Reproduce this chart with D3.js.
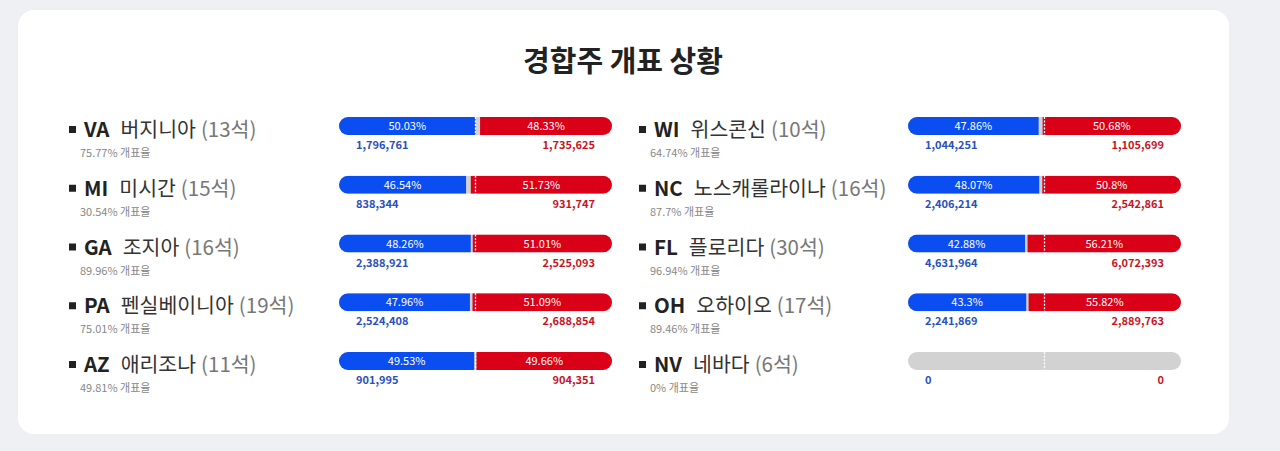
<!DOCTYPE html>
<html><head><meta charset="utf-8">
<script src="https://cdn.jsdelivr.net/npm/d3@7"></script>
<style>
html,body{margin:0;padding:0;background:#eef0f4;}
svg{display:block;font-family:"Noto Sans CJK KR","Noto Sans",sans-serif;}
</style></head>
<body>
<svg id="chart" width="1280" height="451"></svg>
<script>
const states = ["VA","MI","GA","PA","AZ","WI","NC","FL","OH","NV"];
const names = ["버지니아","미시간","조지아","펜실베이니아","애리조나","위스콘신","노스캐롤라이나","플로리다","오하이오","네바다"];
const seats = [13,15,16,19,11,10,16,30,17,6];
const counted = [75.77,30.54,89.96,75.01,49.81,64.74,87.7,96.94,89.46,0];
const demPct = [50.03,46.54,48.26,47.96,49.53,47.86,48.07,42.88,43.3,0];
const repPct = [48.33,51.73,51.01,51.09,49.66,50.68,50.8,56.21,55.82,0];
const demVotes = [1796761,838344,2388921,2524408,901995,1044251,2406214,4631964,2241869,0];
const repVotes = [1735625,931747,2525093,2688854,904351,1105699,2542861,6072393,2889763,0];

const svg = d3.select("#chart");
svg.append("rect").attr("x",18).attr("y",10).attr("width",1211).attr("height",424).attr("rx",16).attr("fill","#fff");
svg.append("text").attr("x",623).attr("y",72).attr("text-anchor","middle")
  .attr("font-size",29).attr("font-weight",700).attr("fill","#222").text("경합주 개표 상황");

const barW = 273, barH = 18;
const x = d3.scaleLinear().domain([0,100]).range([0,barW]);
const rowY = d3.scaleLinear().domain([0,4]).range([117,352]);
const colBullet = [69,639], colBar = [339,908];
const fmt = d3.format(",");

const defs = svg.append("defs");

states.forEach((s,i)=>{
  const c = Math.floor(i/5), r = i%5;
  const by = rowY(r);
  const g = svg.append("g");
  // label
  const lx = colBullet[c];
  g.append("rect").attr("x",lx).attr("y",by+9).attr("width",7).attr("height",7).attr("fill","#222");
  const t = g.append("text").attr("x",lx+15).attr("y",by+20).attr("font-size",20.5).attr("fill","#222");
  t.append("tspan").attr("font-weight",700).text(s);
  t.append("tspan").attr("dx",11).attr("fill","#333").text(names[i]);
  t.append("tspan").attr("dx",5).attr("fill","#777").text("(" + seats[i] + "석)");
  g.append("text").attr("x",lx+11).attr("y",by+40).attr("font-size",11).attr("fill","#888")
    .text(counted[i] + "% 개표율");
  // bar
  const bx = colBar[c];
  const id = "clip"+i;
  defs.append("clipPath").attr("id",id).append("rect")
    .attr("x",bx).attr("y",by).attr("width",barW).attr("height",barH).attr("rx",9);
  const bg = g.append("g").attr("clip-path","url(#"+id+")");
  bg.append("rect").attr("x",bx).attr("y",by).attr("width",barW).attr("height",barH).attr("fill","#d2d2d2");
  bg.append("rect").attr("x",bx).attr("y",by).attr("width",x(demPct[i])).attr("height",barH).attr("fill","#0a4ef2");
  bg.append("rect").attr("x",bx+barW-x(repPct[i])).attr("y",by).attr("width",x(repPct[i])).attr("height",barH).attr("fill","#da0018");
  g.append("line").attr("x1",bx+x(50)).attr("x2",bx+x(50)).attr("y1",by).attr("y2",by+barH)
    .attr("stroke","#fff").attr("stroke-width",1.3).attr("stroke-dasharray","2,1.5");
  if (demPct[i]>0) g.append("text").attr("x",bx+x(demPct[i])/2).attr("y",by+13).attr("text-anchor","middle")
    .attr("font-size",11).attr("fill","#fff").text(demPct[i]+"%");
  if (repPct[i]>0) g.append("text").attr("x",bx+barW-x(repPct[i])/2).attr("y",by+13).attr("text-anchor","middle")
    .attr("font-size",11).attr("fill","#fff").text(repPct[i]+"%");
  g.append("text").attr("x",bx+17).attr("y",by+32).attr("font-size",11).attr("font-weight",700)
    .attr("fill","#2a50bd").text(fmt(demVotes[i]));
  g.append("text").attr("x",bx+barW-17).attr("y",by+32).attr("text-anchor","end").attr("font-size",11).attr("font-weight",700)
    .attr("fill","#c8141f").text(fmt(repVotes[i]));
});
</script>
</body></html>
